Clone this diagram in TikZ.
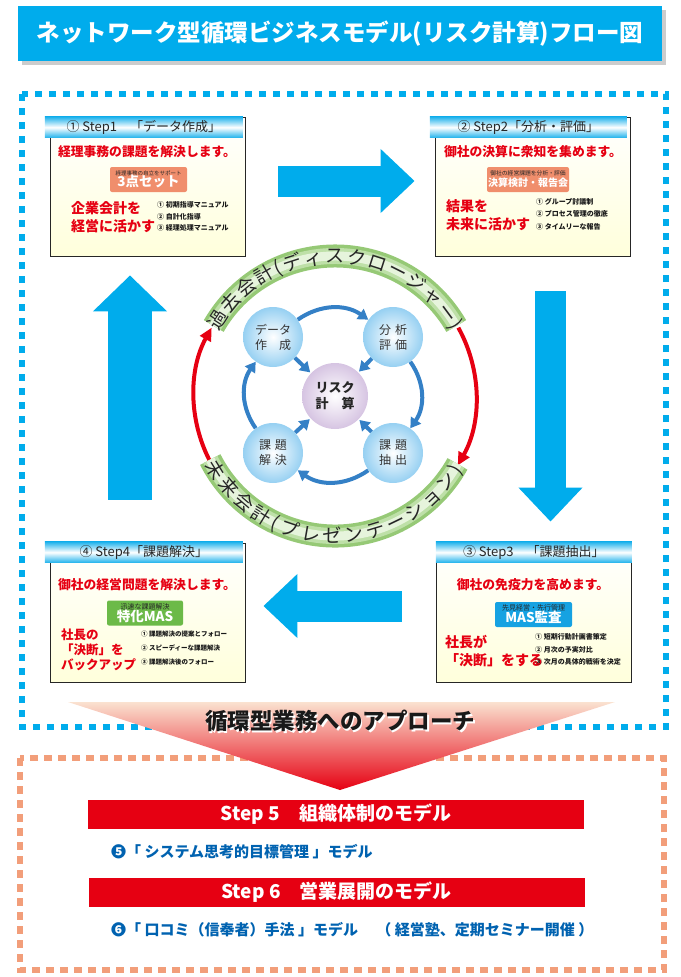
\documentclass[tikz,border=0pt]{standalone}
\usepackage{fontspec}
\setmainfont{Noto Sans CJK JP}
\usepackage{xcolor}
\usepackage{tikz}
\usetikzlibrary{arrows.meta, positioning, calc, shadows, decorations.text}

\definecolor{titleblue}{RGB}{0,172,236}
\definecolor{framepeach}{RGB}{242,158,122}
\definecolor{mainred}{RGB}{230,0,18}
\definecolor{ringblue}{RGB}{52,128,198}
\definecolor{bandgreen}{RGB}{150,201,118}
\definecolor{bandmid}{RGB}{190,224,168}
\definecolor{bandlight}{RGB}{230,244,220}
\definecolor{badgesalmon}{RGB}{240,142,108}
\definecolor{badgegreen}{RGB}{108,186,72}
\definecolor{badgeblue}{RGB}{22,162,226}
\definecolor{textblue}{RGB}{0,98,176}
\definecolor{headblue}{RGB}{30,178,236}
\definecolor{circleblue}{RGB}{150,208,242}
\definecolor{circlepurple}{RGB}{214,196,226}
\definecolor{peachtop}{RGB}{250,226,208}
\definecolor{peachmid}{RGB}{240,150,110}

\newcommand{\fsz}[2]{\fontsize{#1}{#2}\selectfont}

\begin{document}
\begin{tikzpicture}[
  x=1pt, y=1pt,
  titlebar/.style={rectangle, fill=titleblue, text=white, minimum width=644pt, minimum height=55pt, font=\fsz{23.5pt}{24pt}\bfseries, drop shadow={shadow xshift=4pt, shadow yshift=-4pt, fill=black!40}},
  stepbox/.style={rectangle, draw=black!85, line width=0.8pt, top color=white, bottom color=yellow!14, minimum width=195pt, minimum height=139pt, inner sep=0pt},
  header/.style={rectangle, anchor=north west, top color=headblue, bottom color=headblue, middle color=white, minimum height=21pt, inner sep=0pt, font=\fsz{13pt}{13pt}, text=black!85},
  redline/.style={text=mainred, inner sep=0pt, font=\fsz{12.8pt}{13pt}\bfseries},
  bigred/.style={text=mainred, anchor=west, align=left, inner sep=0pt, font=\fsz{14pt}{18pt}\bfseries},
  itemlist/.style={anchor=west, align=left, inner sep=0pt, text=black!90, font=\fsz{7pt}{12pt}\bfseries},
  badge/.style={rectangle, rounded corners=2pt, align=center, inner sep=1pt, minimum width=77pt, minimum height=25pt, text=white},
  bigarrow/.style={draw=titleblue, line width=31pt, -{Triangle[length=34pt, width=62pt]}},
  redarc/.style={draw=mainred, line width=4pt, -{Triangle[length=13pt, width=12pt]}},
  ringarrow/.style={draw=ringblue, line width=4pt, -{Triangle[length=10pt, width=12pt]}},
  smallcircle/.style={circle, minimum size=60pt, inner sep=0pt, inner color=white, outer color=circleblue, align=center, text=black!80, font=\fsz{12pt}{15pt}},
  centercircle/.style={circle, minimum size=66pt, inner sep=0pt, inner color=white, outer color=circlepurple, align=center, text=black!85, font=\fsz{13pt}{16pt}\bfseries},
  bandtext/.style={decorate, decoration={text along path, text align={fit to path}, text color=black!85, text={|\fsz{19pt}{19pt}|#1}}},
  redbar/.style={rectangle, fill=mainred, text=white, minimum width=496pt, minimum height=29pt, font=\fsz{19pt}{19pt}\bfseries},
  modelline/.style={anchor=west, inner sep=0pt, text=textblue, font=\fsz{15pt}{15pt}\bfseries},
  dotframe/.style={line width=6pt, dash pattern=on 7pt off 7pt}
]
\useasboundingbox (0,0) rectangle (680,-977);

% frames
\draw[dotframe, draw=titleblue] (22,-94) rectangle (666,-727);
\draw[dotframe, draw=framepeach, dash pattern=on 8pt off 6pt] (20,-758) rectangle (664,-970);

% title
\node[titlebar] (title) at (340,-33.5) {ネットワーク型循環ビジネスモデル(リスク計算)フロー図};

% step boxes
\node[stepbox] (b1) at (147.5,-186.5) {};
\node[stepbox] (b2) at (532.5,-186.5) {};
\node[stepbox] (b3) at (533.5,-612.5) {};
\node[stepbox] (b4) at (147.5,-612.5) {};
\node[header, minimum width=198pt] (h1) at ([xshift=-5pt]b1.north west) {① Step1　「データ作成」};
\node[header, minimum width=197pt] (h2) at ([xshift=-5pt]b2.north west) {② Step2「分析・評価」};
\node[header, minimum width=196pt] (h3) at ([yshift=1pt]b3.north west) {③ Step3　「課題抽出」};
\node[header, minimum width=198pt] (h4) at ([xshift=-5pt, yshift=1pt]b4.north west) {④ Step4「課題解決」};

% step 1
\node[redline] (t1) at (147,-152) {経理事務の課題を解決します。};
\node[badge, fill=badgesalmon] (k1) at (148.5,-179.5) {{\fsz{5.5pt}{6pt}\color{black!85}経理事務の自立をサポート}\\[-1pt]{\fsz{13.5pt}{13pt}\bfseries 3点セット}};
\node[bigred] (l1) at (71,-217.5) {企業会計を\\経営に活かす};
\node[itemlist, font=\fsz{7pt}{11.5pt}\bfseries] (m1) at (157,-216.5) {① 初期指導マニュアル\\② 自計化指導\\③ 経理処理マニュアル};

% step 2
\node[redline] (t2) at (533,-152) {御社の決算に衆知を集めます。};
\node[badge, fill=badgesalmon, minimum width=79pt] (k2) at (528,-179.5) {{\fsz{5.8pt}{6pt}\color{black!85}御社の経営課題を分析・評価}\\[-1pt]{\fsz{10pt}{11pt}\bfseries 決算検討・報告会}};
\node[bigred] (l2) at (446,-215) {結果を\\未来に活かす};
\node[itemlist, font=\fsz{7pt}{12.5pt}\bfseries] (m2) at (536,-214) {① グループ討議制\\② プロセス管理の徹底\\③ タイムリーな報告};

% step 3
\node[redline] (t3) at (533,-585) {御社の免疫力を高めます。};
\node[badge, fill=badgeblue] (k3) at (533.5,-614.5) {{\fsz{7pt}{7pt}\color{black!85}先見経営・先行管理}\\[-1pt]{\fsz{13.5pt}{13pt}\bfseries MAS監査}};
\node[bigred] (l3) at (445,-651) {社長が\\「決断」をする};
\node[itemlist, font=\fsz{7pt}{12.5pt}\bfseries] (m3) at (535,-649.5) {① 短期行動計画書策定\\② 月次の予実対比\\③ 次月の具体的戦術を決定};

% step 4
\node[redline] (t4) at (147,-585) {御社の経営問題を解決します。};
\node[badge, fill=badgegreen, minimum width=76pt] (k4) at (145,-613) {{\fsz{7pt}{7pt}\color{black!85}迅速な課題解決}\\[-1pt]{\fsz{13.5pt}{13pt}\bfseries 特化MAS}};
\node[bigred, font=\fsz{12.5pt}{15pt}\bfseries] (l4) at (61,-650) {社長の\\「決断」を\\バックアップ};
\node[itemlist, font=\fsz{6.5pt}{14pt}\bfseries] (m4) at (141,-648) {① 課題解決の提案とフォロー\\② スピーディーな課題解決\\③ 課題解決後のフォロー};

% big arrows between steps
\draw[bigarrow, shorten <=33pt, shorten >=20pt] ([yshift=5.5pt]b1.east) -- ([yshift=5.5pt]b2.west);
\draw[bigarrow, shorten <=35pt, shorten >=21pt] ([xshift=18pt]b2.south) -- ([xshift=17pt]b3.north);
\draw[bigarrow, shorten <=34pt, shorten >=18pt] ([yshift=6.5pt]b3.west) -- ([yshift=6.5pt]b4.east);
\draw[bigarrow, line width=44pt, -{Triangle[length=36pt, width=72pt]}, shorten <=43pt, shorten >=19pt] ([xshift=-17.5pt]b4.north) -- ([xshift=-17.5pt]b1.south);

% ring
\coordinate (o) at (335,-396);
\draw[redarc] ([shift={(207:141)}]o) arc[start angle=207, end angle=151, radius=141];
\draw[redarc] ([shift={(29:141)}]o) arc[start angle=29, end angle=-29.5, radius=141];
\foreach \a/\b in {150/30, 207/331} {
  \draw[draw=bandgreen, line width=23pt] ([shift={(\a:140)}]o) arc[start angle=\a, end angle=\b, radius=140];
  \draw[draw=bandmid, line width=16pt] ([shift={(\a:140)}]o) arc[start angle=\a, end angle=\b, radius=140];
  \draw[draw=bandlight, line width=9pt] ([shift={(\a:140)}]o) arc[start angle=\a, end angle=\b, radius=140];
}
\path[bandtext={過去会計(ディスクロージャー)}] ([shift={(151:133)}]o) arc[start angle=151, end angle=29, radius=133];
\path[bandtext={未来会計(プレゼンテーション)}] ([shift={(208:147)}]o) arc[start angle=208, end angle=330, radius=147];

% circles
\node[centercircle] (cc) at (o) {リスク\\計　算};
\node[smallcircle] (c1) at ($(o)+(-62,59)$) {データ\\作　成};
\node[smallcircle] (c2) at ($(o)+(58,59)$) {分\hspace{4pt}析\\評\hspace{4pt}価};
\node[smallcircle] (c3) at ($(o)+(58,-57)$) {課\hspace{4pt}題\\抽\hspace{4pt}出};
\node[smallcircle] (c4) at ($(o)+(-62,-57)$) {課\hspace{4pt}題\\解\hspace{4pt}決};
\draw[ringarrow] (c1) to[bend left=35] (c2);
\draw[ringarrow] (c2) to[bend left=35] (c3);
\draw[ringarrow] (c3) to[bend left=35] (c4);
\draw[ringarrow] (c4) to[bend left=35] (c1);
\foreach \c in {c1,c2,c3,c4}
  \draw[ringarrow, shorten >=1pt] (\c) -- (cc);

% approach
\shade[top color=peachtop, middle color=peachmid, bottom color=mainred] (68,-702) -- (615,-702) -- (340,-790) -- cycle;
\node[font=\fsz{22.5pt}{23pt}\bfseries, text=white] (approachshadow) at (341.5,-722.5) {循環型業務へのアプローチ};
\node[font=\fsz{22.5pt}{23pt}\bfseries, text=black!90] (approach) at (340,-721) {循環型業務へのアプローチ};

% step 5 and 6
\node[redbar] (s5) at (336,-814.5) {Step 5\quad 組織体制のモデル};
\node[modelline] (m5) at (111,-852) {❺「 システム思考的目標管理 」モデル};
\node[redbar] (s6) at (336.5,-892.5) {Step 6\quad 営業展開のモデル};
\node[modelline] (m6) at (111,-930) {❻「 口コミ（信奉者）手法 」モデル　\ （ 経営塾、定期セミナー開催 ）};

\end{tikzpicture}
\end{document}
